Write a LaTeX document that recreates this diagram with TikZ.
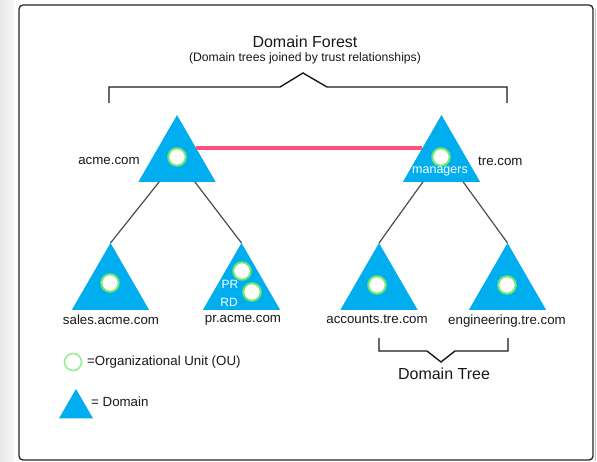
\documentclass[tikz,border=0pt]{standalone}
\usepackage{fontspec}
\setmainfont{Liberation Sans}
\usetikzlibrary{shapes.geometric,calc}
\definecolor{domblue}{RGB}{0,174,239}
\definecolor{oulime}{RGB}{110,232,110}
\definecolor{oulight}{RGB}{150,240,150}
\definecolor{trustpink}{RGB}{255,82,122}
\definecolor{txt}{RGB}{25,25,25}
\tikzset{
  domain/.style={regular polygon, regular polygon sides=3, fill=domblue, draw=none,
    inner sep=0pt, outer sep=0pt, minimum size=#1},
  domain/.default=89pt,
  ou/.style={circle, fill=white, draw=oulime, line width=2pt, inner sep=0pt, minimum size=17.5pt},
  lbl/.style={text=txt, font=\fontsize{13.3}{15}\selectfont, inner sep=0pt},
  wlbl/.style={text=white, font=\fontsize{12.5}{14}\selectfont, inner sep=0pt},
  big/.style={text=txt, font=\fontsize{16}{18}\selectfont, inner sep=0pt},
  link/.style={draw=black!70, line width=1.2pt},
  bracket/.style={draw=black!90, line width=1.4pt},
}
\begin{document}
\begin{tikzpicture}[x=1pt,y=-1pt]
\useasboundingbox (0,0) rectangle (597,461);
\fill[white] (0,0) rectangle (597,461);
\fill[left color=black!9, right color=black!3] (0,0) rectangle (14,461);
\draw[black!25, line width=1pt] (595,9) -- (595,461);
\draw[black!85, line width=1.3pt, rounded corners=4pt] (19,5) rectangle (593,460);

% titles
\node[big] (forest) at (305,42) {Domain Forest};
\node[lbl, font=\fontsize{12.2}{14}\selectfont] (forestsub) at (305,58) {(Domain trees joined by trust relationships)};
\draw[bracket] (109,103) -- (109,87) -- (280,87) -- (303,73) -- (327,87) -- (507,87) -- (507,103);

% domains
\node[domain] (acme) at (177,159.5) {};
\node[domain] (tre) at (441.5,159.5) {};
\node[domain] (sales) at (110.5,287.5) {};
\node[domain] (pr) at (241.5,287.5) {};
\node[domain] (accounts) at (379,287.5) {};
\node[domain] (eng) at (507.5,287.5) {};

% connectors
\draw[trustpink, line width=4pt] ($(acme.corner 1)!0.5!(acme.corner 3)$) -- ($(tre.corner 1)!0.5!(tre.corner 2)$);
\draw[link] ($(acme.corner 2)!0.27!(acme.corner 3)$) -- (sales.corner 1);
\draw[link] ($(acme.corner 2)!0.73!(acme.corner 3)$) -- (pr.corner 1);
\draw[link] ($(tre.corner 2)!0.26!(tre.corner 3)$) -- (accounts.corner 1);
\draw[link] ($(tre.corner 2)!0.78!(tre.corner 3)$) -- (eng.corner 1);

% OUs
\node[ou] (acmeou) at (177,157) {};
\node[ou] (treou) at (441,157) {};
\node[ou] (salesou) at (110,283) {};
\node[ou] (prou1) at (242,271) {};
\node[ou] (prou2) at (252,292) {};
\node[ou] (accou) at (377,285) {};
\node[ou] (engou) at (507,285) {};

\node[wlbl] (mgr) at (440,171) {managers};
\node[wlbl, font=\fontsize{12}{14}\selectfont] (prtxt) at (230,284) {PR};
\node[wlbl, font=\fontsize{12}{14}\selectfont] (rdtxt) at (229,302) {RD};

% labels
\node[lbl] (acmel) at (109,161) {acme.com};
\node[lbl, anchor=west] (trel) at (478,161) {tre.com};
\node[lbl] (salesl) at (111,320) {sales.acme.com};
\node[lbl] (prl) at (243,320) {pr.acme.com};
\node[lbl] (accl) at (377,319) {accounts.tre.com};
\node[lbl] (engl) at (507,321) {engineering.tre.com};

% domain tree bracket
\draw[bracket] (379,338) -- (379,351) -- (427,351) -- (441,362) -- (455,351) -- (508,351) -- (508,338);
\node[big] (treelbl) at (444,374) {Domain Tree};

% legend
\node[circle, fill=white, draw=oulight, line width=1.6pt, minimum size=17pt, inner sep=0pt] (legou) at (73,362) {};
\node[lbl, anchor=west] (legoutxt) at (87,362) {=Organizational Unit (OU)};
\node[domain=39.3pt] (legdom) at (76,408.6) {};
\node[lbl, anchor=west] (legdomtxt) at (91,402) {= Domain};
\end{tikzpicture}
\end{document}
